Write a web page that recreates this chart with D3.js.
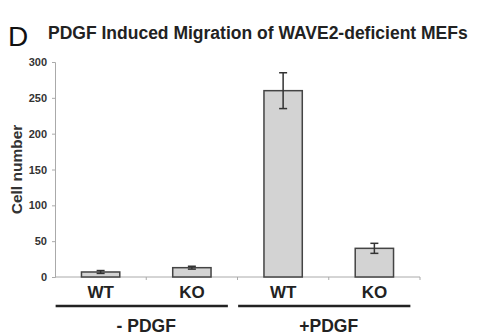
<!DOCTYPE html>
<html>
<head>
<meta charset="utf-8">
<script src="https://cdn.jsdelivr.net/npm/d3@7"></script>
<style>
  body { margin: 0; background: #fff; }
  svg { font-family: 'Liberation Sans', Arial, sans-serif; }
</style>
</head>
<body>
<div id="chart"></div>
<script>
const categories = ['WT', 'KO', 'WT ', 'KO ']
const cellCounts = [7, 13, 260, 40]
const errors = [2, 2, 25, 7]
const groups = [
  { label: '- PDGF', from: 0, to: 1 },
  { label: '+PDGF', from: 2, to: 3 }
]
const yTicks = [0, 50, 100, 150, 200, 250, 300]

const width = 488
const height = 335

const svg = d3.select('#chart')
  .append('svg')
  .attr('width', width)
  .attr('height', height)

// scales
const x = d3.scaleBand()
  .domain(categories)
  .range([55, 420])
  .paddingInner(0.58)
  .paddingOuter(0.29)

const y = d3.scaleLinear()
  .domain([0, 300])
  .range([277, 62])

// title
svg.append('text')
  .attr('x', 8).attr('y', 46)
  .style('font-size', '28px')
  .style('fill', '#111')
  .text('D')

svg.append('text')
  .attr('x', 48).attr('y', 39)
  .style('font-size', '17.5px')
  .style('font-weight', 'bold')
  .style('fill', '#222')
  .text('PDGF Induced Migration of WAVE2-deficient MEFs')

// y axis
const yAxis = svg.append('g')
  .attr('transform', 'translate(55,0)')
  .call(d3.axisLeft(y).tickValues(yTicks).tickSize(3).tickPadding(5))
yAxis.select('.domain').attr('stroke', '#aaa')
yAxis.selectAll('.tick line').attr('stroke', '#aaa')
yAxis.selectAll('.tick text')
  .style('font-size', '11px')
  .style('font-weight', 'bold')
  .style('fill', '#333')
  .style('font-family', "'Liberation Sans', Arial, sans-serif")

svg.append('text')
  .attr('transform', `translate(22,${(y(0) + y(300)) / 2}) rotate(-90)`)
  .attr('text-anchor', 'middle')
  .style('font-size', '15.5px')
  .style('font-weight', 'bold')
  .style('fill', '#333')
  .text('Cell number')

// x axis with ticks between categories
const xLine = svg.append('g')
xLine.append('line')
  .attr('x1', 55).attr('x2', 420)
  .attr('y1', y(0)).attr('y2', y(0))
  .attr('stroke', '#aaa')
const step = x.step()
xLine.selectAll('.sep')
  .data(categories)
  .enter().append('line')
  .attr('class', 'sep')
  .attr('x1', d => x(d) + x.bandwidth() / 2 + step / 2)
  .attr('x2', d => x(d) + x.bandwidth() / 2 + step / 2)
  .attr('y1', y(0)).attr('y2', y(0) + 3)
  .attr('stroke', '#aaa')

// bars
svg.selectAll('.bar')
  .data(categories)
  .enter().append('rect')
  .attr('class', 'bar')
  .attr('x', d => x(d))
  .attr('width', x.bandwidth())
  .attr('y', (d, i) => y(cellCounts[i]))
  .attr('height', (d, i) => y(0) - y(cellCounts[i]))
  .style('fill', '#d3d3d3')
  .style('stroke', '#444')
  .style('stroke-width', 1.5)

// error bars
const eb = svg.selectAll('.err')
  .data(categories)
  .enter().append('g')
  .attr('class', 'err')
  .style('stroke', '#333')
  .style('stroke-width', 1.5)
eb.append('line')
  .attr('x1', d => x(d) + x.bandwidth() / 2)
  .attr('x2', d => x(d) + x.bandwidth() / 2)
  .attr('y1', (d, i) => y(cellCounts[i] + errors[i]))
  .attr('y2', (d, i) => y(cellCounts[i] - errors[i]))
eb.append('line')
  .attr('x1', d => x(d) + x.bandwidth() / 2 - 4)
  .attr('x2', d => x(d) + x.bandwidth() / 2 + 4)
  .attr('y1', (d, i) => y(cellCounts[i] + errors[i]))
  .attr('y2', (d, i) => y(cellCounts[i] + errors[i]))
eb.append('line')
  .attr('x1', d => x(d) + x.bandwidth() / 2 - 4)
  .attr('x2', d => x(d) + x.bandwidth() / 2 + 4)
  .attr('y1', (d, i) => y(cellCounts[i] - errors[i]))
  .attr('y2', (d, i) => y(cellCounts[i] - errors[i]))

// category labels
svg.selectAll('.cat')
  .data(categories)
  .enter().append('text')
  .attr('class', 'cat')
  .attr('x', d => x(d) + x.bandwidth() / 2)
  .attr('y', 298)
  .attr('text-anchor', 'middle')
  .style('font-size', '17px')
  .style('font-weight', 'bold')
  .style('fill', '#222')
  .text(d => d.trim())

// group lines and labels
const g = svg.selectAll('.grp')
  .data(groups)
  .enter().append('g')
  .attr('class', 'grp')
g.append('line')
  .attr('x1', d => x(categories[d.from]) + x.bandwidth() / 2 - 45)
  .attr('x2', d => x(categories[d.to]) + x.bandwidth() / 2 + 36)
  .attr('y1', 306).attr('y2', 306)
  .attr('stroke', '#222')
  .attr('stroke-width', 2.5)
g.append('text')
  .attr('x', d => (x(categories[d.from]) + x(categories[d.to]) + x.bandwidth()) / 2)
  .attr('y', 332)
  .attr('text-anchor', 'middle')
  .style('font-size', '17.5px')
  .style('font-weight', 'bold')
  .style('fill', '#222')
  .text(d => d.label)
</script>
</body>
</html>
